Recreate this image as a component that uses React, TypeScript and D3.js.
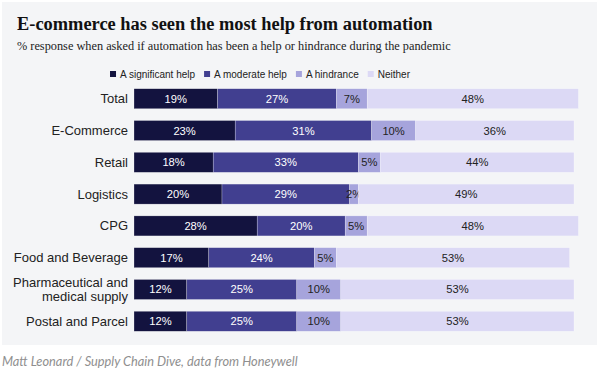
import React, { useEffect, useRef } from "react";
import * as d3 from "d3";

const categories = [
  "Total",
  "E-Commerce",
  "Retail",
  "Logistics",
  "CPG",
  "Food and Beverage",
  "Pharmaceutical and medical supply",
  "Postal and Parcel",
];
const seriesNames = ["A significant help", "A moderate help", "A hindrance", "Neither"];
const significant = [19, 23, 18, 20, 28, 17, 12, 12];
const moderate = [27, 31, 33, 29, 20, 24, 25, 25];
const hindrance = [7, 10, 5, 2, 5, 5, 10, 10];
const neither = [48, 36, 44, 49, 48, 53, 53, 53];
const colors = ["#13133f", "#413f90", "#a6a4dc", "#dcd9f5"];
const textColors = ["#ffffff", "#ffffff", "#222222", "#222222"];

const W = 602;
const H = 388;

export default function App() {
  const ref = useRef<SVGSVGElement>(null);
  useEffect(() => {
    const svg = d3.select(ref.current);
    svg.selectAll("*").remove();

    svg.append("rect").attr("x", 0).attr("y", 0).attr("width", W).attr("height", H).attr("fill", "#ffffff");
    svg.append("rect").attr("x", 2).attr("y", 2).attr("width", 595).attr("height", 343).attr("fill", "#f4f5f7");

    svg.append("text").attr("x", 17).attr("y", 30)
      .attr("font-family", "'Liberation Serif', 'DejaVu Serif', serif")
      .attr("font-weight", "bold").attr("font-size", 18.4).attr("fill", "#111")
      .text("E-commerce has seen the most help from automation");
    svg.append("text").attr("x", 17).attr("y", 50)
      .attr("font-family", "'Liberation Serif', 'DejaVu Serif', serif")
      .attr("font-size", 12.3).attr("fill", "#222")
      .text("% response when asked if automation has been a help or hindrance during the pandemic");

    // legend, laid out from measured text widths, centred on the reference's legend centre
    const legend = svg.append("g");
    const items = seriesNames.map((name, i) => {
      const g = legend.append("g");
      g.append("rect").attr("x", 0).attr("y", -7).attr("width", 6).attr("height", 6).attr("fill", colors[i]);
      const t = g.append("text").attr("x", 10).attr("y", 0)
        .attr("font-family", "'Liberation Sans', Arial, sans-serif").attr("font-size", 10).attr("fill", "#222")
        .text(name);
      const w = 10 + (t.node() as SVGTextElement).getComputedTextLength();
      return { g, w };
    });
    const gap = 9;
    const total = d3.sum(items, (d) => d.w) + gap * (items.length - 1);
    let lx = 260 - total / 2;
    items.forEach((it) => {
      it.g.attr("transform", `translate(${lx},78)`);
      lx += it.w + gap;
    });

    const data = categories.map((c, i) => ({
      cat: c,
      values: [significant[i], moderate[i], hindrance[i], neither[i]],
    }));

    const x = d3.scaleLinear().domain([0, 100]).range([134, 574]);
    const y = d3.scaleBand().domain(categories).range([83, 337]).paddingInner(0.37).paddingOuter(0.18);

    const rows = svg.selectAll("g.row").data(data).join("g").attr("class", "row");

    rows.each(function (d) {
      const g = d3.select(this);
      let acc = 0;
      d.values.forEach((v, i) => {
        const x0 = x(acc);
        const x1 = x(acc + v);
        acc += v;
        g.append("rect").attr("x", x0).attr("y", y(d.cat)!).attr("width", x1 - x0).attr("height", y.bandwidth())
          .attr("fill", colors[i]).attr("stroke", "#ffffff").attr("stroke-opacity", 0.5).attr("stroke-width", 0.5);
        g.append("text").attr("x", (x0 + x1) / 2).attr("y", y(d.cat)! + y.bandwidth() / 2 + 4)
          .attr("text-anchor", "middle")
          .attr("font-family", "'Liberation Sans', Arial, sans-serif").attr("font-size", 11.2)
          .attr("fill", textColors[i]).text(`${v}%`);
      });
      const lines = d.cat === "Pharmaceutical and medical supply" ? ["Pharmaceutical and", "medical supply"] : [d.cat];
      const cy = y(d.cat)! + y.bandwidth() / 2;
      lines.forEach((ln, k) => {
        g.append("text").attr("x", 128).attr("y", cy + 4.5 + (k - (lines.length - 1) / 2) * 14)
          .attr("text-anchor", "end")
          .attr("font-family", "'Liberation Sans', Arial, sans-serif").attr("font-size", 13).attr("fill", "#222")
          .text(ln);
      });
    });

    svg.append("text").attr("x", 2).attr("y", 366)
      .attr("font-family", "Lato, 'Open Sans', sans-serif").attr("font-style", "italic")
      .attr("font-size", 12.8).attr("fill", "#8f8f8f")
      .text("Matt Leonard / Supply Chain Dive, data from Honeywell");
  }, []);

  return (
    <svg ref={ref} width={W} height={H} style={{ position: "absolute", left: 0, top: 0 }} />
  );
}
